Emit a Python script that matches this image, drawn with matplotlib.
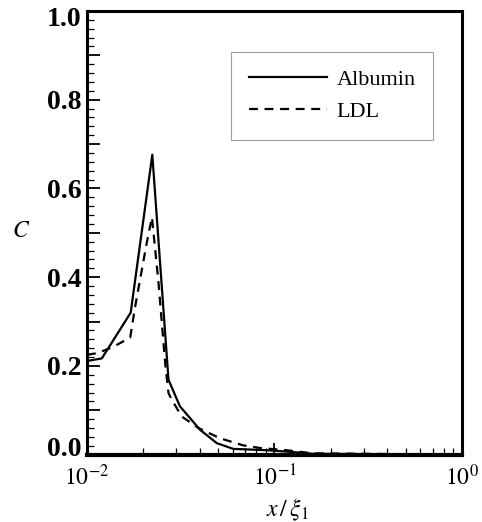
import numpy as np
import matplotlib
matplotlib.use("Agg")
import matplotlib.pyplot as plt
import matplotlib.transforms as mtrans
from matplotlib.ticker import MultipleLocator, FuncFormatter, LogLocator

plt.rcParams['font.family'] = ['Liberation Serif', 'DejaVu Serif']
plt.rcParams['mathtext.fontset'] = 'stix'

# albumin concentration along the wall
x_alb = [0.0100, 0.0120, 0.0171, 0.0223, 0.0272, 0.0313, 0.0401, 0.0492,
         0.0603, 0.0908, 0.125, 0.16, 1.0]
c_alb = [0.211, 0.217, 0.320, 0.676, 0.169, 0.109, 0.056, 0.026,
         0.013, 0.010, 0.006, 0.002, 0.0]

# LDL concentration
x_ldl = [0.0100, 0.0114, 0.0138, 0.0170, 0.0180, 0.0208, 0.0222, 0.0240,
         0.0262, 0.0272, 0.0283, 0.0320, 0.0393, 0.0512, 0.068, 0.084,
         0.116, 0.16, 1.0]
c_ldl = [0.225, 0.229, 0.243, 0.264, 0.330, 0.476, 0.535, 0.393,
         0.200, 0.139, 0.124, 0.086, 0.060, 0.037, 0.021, 0.015,
         0.010, 0.003, 0.0]

fig = plt.figure(figsize=(4.82, 5.22), dpi=100)
ax = fig.add_axes([0.1805, 0.129, 0.778, 0.85])

ax.plot(x_alb, c_alb, 'k-', lw=1.6, label='Albumin')
ax.plot(x_ldl, c_ldl, 'k--', lw=1.6, dashes=(4, 3), label='LDL')

ax.set_xscale('log')
ax.set_xlim(1e-2, 1)
ax.set_ylim(0, 1.0)

ax.yaxis.set_major_locator(MultipleLocator(0.1))
ax.yaxis.set_minor_locator(MultipleLocator(0.02))
ax.yaxis.set_major_formatter(FuncFormatter(
    lambda v, p: '%.1f' % v if round(v * 10) % 2 == 0 else ''))
ax.xaxis.set_major_locator(LogLocator(base=10))
ax.xaxis.set_minor_locator(LogLocator(base=10, subs=np.arange(2, 10)))
ax.xaxis.set_major_formatter(FuncFormatter(
    lambda v, p: r'$10^{%d}$' % round(np.log10(v))))

ax.tick_params(which='both', direction='in', top=False, right=False)
ax.tick_params(which='major', length=9, width=1.3, labelsize=17)
ax.tick_params(which='minor', length=5, width=0.9)
ax.tick_params(axis='y', which='major', labelsize=20, pad=4)
ax.tick_params(axis='x', which='major', pad=7)

for s in ax.spines.values():
    s.set_linewidth(2.2)
ax.spines['bottom'].set_linewidth(3)

ax.set_xlabel(r'$x\,/\,\xi_1$', fontsize=17)
ax.xaxis.set_label_coords(0.535, -0.095)
ax.set_ylabel(r'$C$', fontsize=17, rotation=0, va='center', ha='center')
ax.yaxis.set_label_coords(-0.176, 0.503)

leg = ax.legend(loc='upper left', bbox_to_anchor=(0.384, 0.908),
                frameon=True, fancybox=False, edgecolor='#888888',
                fontsize=16, handlelength=3.5, handletextpad=0.45,
                borderpad=0.8, labelspacing=0.5, borderaxespad=0)
leg.get_frame().set_linewidth(0.8)

# bold y labels, lowest one lifted off the x labels as in the original
fig.canvas.draw()
for lab in ax.get_yticklabels():
    lab.set_fontweight('bold')
    if lab.get_text() == '0.0':
        lab.set_transform(lab.get_transform() +
                          mtrans.ScaledTranslation(0, 6 / 72, fig.dpi_scale_trans))
    elif lab.get_text() == '1.0':
        lab.set_transform(lab.get_transform() +
                          mtrans.ScaledTranslation(0, -4 / 72, fig.dpi_scale_trans))

fig.savefig('out.png', dpi=100)
